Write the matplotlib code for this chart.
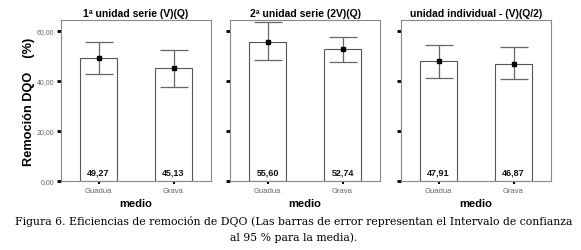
import matplotlib
matplotlib.use("Agg")
import matplotlib.pyplot as plt
import numpy as np

titles = ["1ª unidad serie (V)(Q)", "2ª unidad serie (2V)(Q)", "unidad individual - (V)(Q/2)"]
categories = ["Guadua", "Grava"]
means = [[49.27, 45.13], [55.60, 52.74], [47.91, 46.87]]
ci_low = [[42.7, 37.6], [48.3, 47.6], [41.3, 40.7]]
ci_high = [[55.7, 52.5], [63.5, 57.5], [54.3, 53.5]]
yticks = [0, 20, 40, 60]
ytick_labels = ["0,00", "20,00", "40,00", "60,00"]

W, H = 581, 251
fig = plt.figure(figsize=(W / 100, H / 100), dpi=100)
fig.patch.set_facecolor("white")

lefts = [61, 230, 401]
pw = 150
top, bottom = 21, 182
sans = ["Liberation Sans", "DejaVu Sans"]

for i, left in enumerate(lefts):
    ax = fig.add_axes([left / W, 1 - bottom / H, pw / W, (bottom - top) / H])
    x = np.arange(len(categories))
    m = np.array(means[i])
    lo = np.array(ci_low[i])
    hi = np.array(ci_high[i])
    ax.bar(x, m, width=0.5, color="white", edgecolor="#555555", linewidth=0.8, zorder=2)
    ax.errorbar(x, m, yerr=[m - lo, hi - m], fmt="none", ecolor="#666666",
                elinewidth=0.9, capsize=10, capthick=0.9, zorder=3)
    ax.plot(x, m, "s", color="black", markersize=3.5, zorder=4)
    for xi, v in zip(x, m):
        ax.text(xi, 3.6, f"{v:.2f}".replace(".", ","), ha="center", va="center",
                fontsize=6.5, fontweight="bold", family=sans, color="#111111")
    ax.set_xlim(-0.5, 1.5)
    ax.set_ylim(0, 64.4)
    ax.set_xticks(x)
    ax.set_xticklabels(categories, fontsize=5.5, color="#666666", family=sans)
    ax.set_yticks(yticks)
    if i == 0:
        ax.set_yticklabels(ytick_labels, fontsize=5, color="#666666", family=sans)
    else:
        ax.set_yticklabels([])
    ax.tick_params(axis="both", length=3, width=2, color="black", pad=2)
    ax.tick_params(axis="x", length=2, width=1.5)
    for s in ax.spines.values():
        s.set_color("#888888")
        s.set_linewidth(0.8)
    ax.set_title(titles[i], fontsize=7.5, fontweight="bold", family=sans, pad=3)
    ax.set_xlabel("medio", fontsize=8, fontweight="bold", family=sans, labelpad=3)

fig.text(29 / W, 1 - 102 / H, "Remoción DQO    (%)", rotation=90, ha="center", va="center",
         fontsize=9.2, fontweight="bold", family=sans)

caption1 = "Figura 6. Eficiencias de remoción de DQO (Las barras de error representan el Intervalo de confianza"
caption2 = "al 95 % para la media)."
serif = ["DejaVu Serif"]
fig.text(294 / W, 1 - 222 / H, caption1, ha="center", va="center", fontsize=7.85, family=serif)
fig.text(294 / W, 1 - 238 / H, caption2, ha="center", va="center", fontsize=7.85, family=serif)

fig.savefig("out.png", dpi=100)
